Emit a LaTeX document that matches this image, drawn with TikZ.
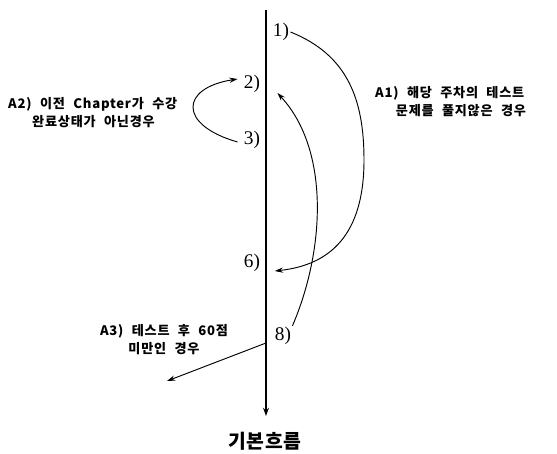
\documentclass[tikz,border=0pt]{standalone}
\usepackage{fontspec}
\setmainfont{Liberation Serif}
\newfontfamily\krfont[WordSpace=2.2, LetterSpace=6]{Noto Sans CJK KR}
\newfontfamily\krtitle[LetterSpace=4]{Noto Sans CJK KR}
\usepackage{tikz}
\usetikzlibrary{arrows.meta, calc}
\tikzset{
  stepno/.style   = {inner sep=1pt, font=\fontsize{16.5}{16.5}\selectfont},
  altcase/.style  = {inner sep=0pt, align=left,
                     font=\krfont\bfseries\fontsize{11.2}{15.3}\selectfont},
  flowlabel/.style = {inner sep=0pt, font=\krtitle\bfseries\fontsize{16.5}{17}\selectfont},
  flowline/.style = {line width=1.3pt, -{Stealth[length=7pt, width=5pt]}},
  altarrow/.style = {line width=0.8pt, -{Stealth[length=7pt, width=4.5pt]}},
}

\begin{document}
\begin{tikzpicture}
  \useasboundingbox (0,0) rectangle (16.71,13.59);

  %─── Basic flow (vertical) ─────────────────────────────────────────────────
  \coordinate (flowtop) at (7.98, 13.29);
  \coordinate (flowend) at (7.98, 1.11);
  \node[flowlabel] at (7.95, 0.36) (flow) {기본흐름};
  \draw[flowline] (flowtop) -- (flowend);

  %─── Step numbers ──────────────────────────────────────────────────────────
  \node[stepno] at (8.43, 12.63) (s1) {1)};
  \node[stepno] at (7.56, 11.07) (s2) {2)};
  \node[stepno] at (7.56, 9.39)  (s3) {3)};
  \node[stepno] at (7.56, 5.70)  (s6) {6)};
  \node[stepno] at (8.49, 3.51)  (s8) {8)};

  %─── Alternative cases ─────────────────────────────────────────────────────
  \node[altcase, anchor=west] at (11.25, 10.53) (a1)
        {A1) 해당 주차의 테스트\\\hspace*{0.62cm}문제를 풀지않은 경우};
  \node[altcase, anchor=west] at (0.24, 10.22) (a2)
        {A2) 이전 Chapter가 수강\\\hspace*{0.72cm}완료상태가 아닌경우};
  \node[altcase, align=center] at (4.92, 3.40) (a3)
        {A3) 테스트 후 60점\\미만인 경우};

  %─── Edges ─────────────────────────────────────────────────────────────────
  % A1: 1) jumps to 6)
  \draw[altarrow] (s1.east) .. controls (10.44, 11.94) and (10.92, 10.59) .. (10.92, 8.79)
        .. controls (10.92, 6.54) and (9.90, 5.64) .. ($(s6.east)+(0.40,-0.24)$);

  % A2: 3) back to 2)
  \draw[altarrow] ($(s3.west)+(-0.15,-0.06)$) .. controls (5.34, 9.84) and (5.40, 10.95)
        .. ($(s2.west)+(-0.15,0.15)$);

  % 8) back to 2)
  \draw[altarrow] (s8.north east) .. controls (9.75, 6.09) and (9.90, 9.09)
        .. ($(s2.east)+(0.48,-0.27)$);

  % A3: leave the flow
  \coordinate (fork)  at (7.98, 3.30);
  \coordinate (a3tip) at (5.01, 2.16);
  \draw[altarrow] (fork) -- (a3tip);

\end{tikzpicture}
\end{document}
